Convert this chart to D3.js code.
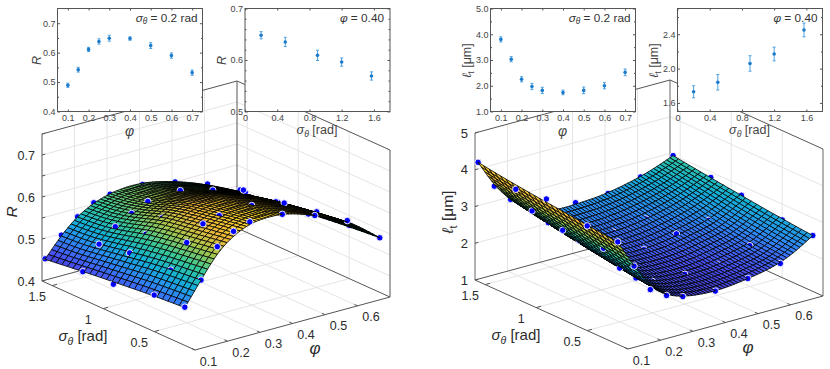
<!DOCTYPE html>
<html>
<head>
<meta charset="utf-8">
<script src="https://cdn.jsdelivr.net/npm/d3@7"></script>
<style>
  html, body { margin: 0; padding: 0; background: #fff; }
  text { font-family: "Liberation Sans", Arial, sans-serif; }
</style>
</head>
<body>
<div id="container"></div>
<script>
// Inset Data
var insetPhi = [0.1, 0.15, 0.2, 0.25, 0.3, 0.4, 0.5, 0.6, 0.7];
var insetSigma = [0.2, 0.5, 0.9, 1.2, 1.57];
var rVsPhi = [0.489, 0.542, 0.611, 0.638, 0.649, 0.648, 0.624, 0.590, 0.532];
var rVsPhiErr = [0.007, 0.008, 0.007, 0.009, 0.010, 0.006, 0.010, 0.009, 0.009];
var rVsSigma = [0.648, 0.635, 0.609, 0.596, 0.569];
var rVsSigmaErr = [0.007, 0.009, 0.010, 0.008, 0.008];
var ltVsPhi = [3.80, 3.03, 2.25, 1.97, 1.82, 1.74, 1.82, 2.00, 2.52];
var ltVsPhiErr = [0.10, 0.10, 0.10, 0.12, 0.12, 0.09, 0.13, 0.12, 0.13];
var ltVsSigma = [1.73, 1.84, 2.06, 2.17, 2.45];
var ltVsSigmaErr = [0.07, 0.09, 0.09, 0.08, 0.08];

// Blue Points On The 3D Plots, One Row Per phi, One Column Per sigma
var rPoints = [
  [0.491, 0.487, 0.469, 0.466, 0.456],
  [0.545, 0.536, 0.533, 0.521, 0.502],
  [0.614, 0.591, 0.567, 0.552, 0.535],
  [0.640, 0.625, 0.595, 0.573, 0.558],
  [0.652, 0.634, 0.607, 0.591, 0.568],
  [0.649, 0.637, 0.610, 0.596, 0.570],
  [0.625, 0.622, 0.609, 0.576, 0.555],
  [0.592, 0.580, 0.560, 0.549, 0.529],
  [0.530, 0.527, 0.510, 0.505, 0.494]
];
var ltPoints = [
  [3.79, 3.85, 4.08, 3.97, 4.24],
  [3.01, 3.12, 3.11, 3.26, 3.47],
  [2.25, 2.46, 2.72, 2.82, 2.99],
  [1.97, 2.07, 2.35, 2.50, 2.75],
  [1.82, 1.86, 2.05, 2.25, 2.46],
  [1.73, 1.81, 1.98, 2.08, 2.42],
  [1.83, 1.83, 2.17, 2.20, 2.43],
  [2.00, 2.11, 2.30, 2.36, 2.64],
  [2.52, 2.57, 2.74, 2.85, 2.98]
];

// Fitted Surface Read At Regular Nodes, One Row Per sigma, One Column Per phi
var surfPhi = [0.1, 0.7];
var surfSigma = [0.2, 1.57];
var rSurface = [
  [0.490, 0.545, 0.600, 0.630, 0.648, 0.652, 0.650, 0.640, 0.625, 0.610, 0.590, 0.562, 0.530],
  [0.486, 0.540, 0.590, 0.621, 0.639, 0.645, 0.643, 0.633, 0.618, 0.602, 0.582, 0.555, 0.525],
  [0.481, 0.534, 0.581, 0.611, 0.627, 0.634, 0.633, 0.624, 0.609, 0.593, 0.573, 0.547, 0.519],
  [0.475, 0.522, 0.572, 0.602, 0.617, 0.623, 0.622, 0.613, 0.599, 0.583, 0.563, 0.538, 0.512],
  [0.469, 0.514, 0.553, 0.580, 0.594, 0.600, 0.600, 0.592, 0.580, 0.568, 0.549, 0.526, 0.504],
  [0.462, 0.503, 0.541, 0.564, 0.578, 0.584, 0.584, 0.577, 0.566, 0.553, 0.537, 0.517, 0.497],
  [0.455, 0.502, 0.537, 0.558, 0.570, 0.575, 0.574, 0.567, 0.556, 0.543, 0.527, 0.509, 0.490]
];
var ltSurface = [
  [3.78, 3.01, 2.32, 1.97, 1.82, 1.75, 1.73, 1.76, 1.83, 1.90, 2.02, 2.23, 2.52],
  [3.85, 3.08, 2.42, 2.04, 1.88, 1.81, 1.79, 1.81, 1.87, 1.96, 2.05, 2.30, 2.58],
  [3.92, 3.15, 2.52, 2.13, 1.95, 1.88, 1.87, 1.89, 1.96, 2.06, 2.15, 2.38, 2.65],
  [3.99, 3.22, 2.62, 2.24, 2.04, 1.96, 1.96, 1.99, 2.07, 2.17, 2.26, 2.48, 2.73],
  [4.06, 3.29, 2.72, 2.35, 2.15, 2.07, 2.07, 2.11, 2.19, 2.29, 2.42, 2.59, 2.81],
  [4.14, 3.38, 2.84, 2.47, 2.27, 2.20, 2.21, 2.25, 2.32, 2.42, 2.54, 2.70, 2.89],
  [4.24, 3.48, 2.97, 2.60, 2.42, 2.36, 2.38, 2.40, 2.45, 2.54, 2.65, 2.80, 2.98]
];

// Tick Values
var phiTicks3d = [0.1, 0.2, 0.3, 0.4, 0.5, 0.6];
var sigmaTicks3d = [0.5, 1, 1.5];
var rTicks3d = [0.4, 0.5, 0.6, 0.7];
var rGrid3d = [0.4, 0.45, 0.5, 0.55, 0.6, 0.65, 0.7, 0.75];
var ltTicks3d = [1, 2, 3, 4, 5];
var parula = ["#3e26a8", "#4852f4", "#2e87f7", "#12b1d6", "#37c897", "#a0c74f", "#f0b93a", "#f9d52a", "#f9fb15"];

var MESH_PHI = 60; // Mesh Cells Along phi
var MESH_SIGMA = 25; // Mesh Cells Along sigma

var svg = d3.select("#container").append("svg")
    .attr("width", 830)
    .attr("height", 369)
    .style("display", "block");

// Adds A Text With An Italic sigma And Its Theta Subscript
function sigmaLabel(sel, size, suffix) {
  sel.append("tspan").attr("font-style", "italic").text("σ");
  sel.append("tspan").attr("font-style", "italic").attr("font-size", size * 0.7).attr("dy", size * 0.25).text("θ");
  sel.append("tspan").attr("dy", -size * 0.25).text(suffix);
}

function ltLabel(sel, size) {
  sel.append("tspan").attr("font-style", "italic").text("ℓ");
  sel.append("tspan").attr("font-size", size * 0.7).attr("dy", size * 0.25).text("t");
  sel.append("tspan").attr("dy", -size * 0.25).text(" [μm]");
}

function drawSurfacePlot(opt) {
  var g = svg.append("g");
  var phiX = d3.scaleLinear().domain([0.1, 0.7]).range([0, 195]);
  var phiY = d3.scaleLinear().domain([0.1, 0.7]).range([0, -53]);
  var sigmaX = d3.scaleLinear().domain([0.1, 1.6]).range([0, -153]);
  var sigmaY = d3.scaleLinear().domain([0.1, 1.6]).range([0, -69]);
  var zY = d3.scaleLinear().domain(opt.zDomain).range([0, -147]);
  var project = function(phi, sigma, z) {
    return [opt.x0 + phiX(phi) + sigmaX(sigma), opt.y0 + phiY(phi) + sigmaY(sigma) + zY(z)];
  };
  var seg = function(a, b, color, width) {
    g.append("line")
      .attr("x1", a[0]).attr("y1", a[1]).attr("x2", b[0]).attr("y2", b[1])
      .attr("stroke", color).attr("stroke-width", width);
  };
  var zLo = opt.zDomain[0], zHi = opt.zDomain[1];

  // Grid On The Floor And On Both Back Walls
  phiTicks3d.slice(1).forEach(function(p) {
    seg(project(p, 0.1, zLo), project(p, 1.6, zLo), "#e4e4e4", 1);
    seg(project(p, 1.6, zLo), project(p, 1.6, zHi), "#e4e4e4", 1);
  });
  sigmaTicks3d.forEach(function(s) {
    seg(project(0.1, s, zLo), project(0.7, s, zLo), "#e4e4e4", 1);
    seg(project(0.7, s, zLo), project(0.7, s, zHi), "#e4e4e4", 1);
  });
  opt.zGrid.slice(1, -1).forEach(function(z) {
    seg(project(0.1, 1.6, z), project(0.7, 1.6, z), "#e4e4e4", 1);
    seg(project(0.7, 1.6, z), project(0.7, 0.1, z), "#e4e4e4", 1);
  });

  // Box Edges
  seg(project(0.1, 1.6, zLo), project(0.1, 1.6, zHi), opt.edge, opt.edgeWidth);
  seg(project(0.7, 1.6, zLo), project(0.7, 1.6, zHi), opt.edge, opt.edgeWidth);
  seg(project(0.7, 0.1, zLo), project(0.7, 0.1, zHi), opt.edge, opt.edgeWidth);
  seg(project(0.1, 1.6, zHi), project(0.7, 1.6, zHi), "#555", 1);
  seg(project(0.7, 1.6, zHi), project(0.7, 0.1, zHi), "#555", 1);
  seg(project(0.1, 1.6, zLo), project(0.7, 1.6, zLo), "#555", 1);
  seg(project(0.7, 1.6, zLo), project(0.7, 0.1, zLo), "#555", 1);
  seg(project(0.1, 0.1, zLo), project(0.1, 1.6, zLo), "#555", 1);
  seg(project(0.1, 0.1, zLo), project(0.7, 0.1, zLo), "#555", 1);

  // Refine The Read Nodes To The Mesh Resolution
  var rowFns = opt.surface.map(function(row) { return d3.interpolateBasis(row); });
  var grid = d3.range(MESH_PHI + 1).map(function(i) {
    var colFn = d3.interpolateBasis(rowFns.map(function(f) { return f(i / MESH_PHI); }));
    return d3.range(MESH_SIGMA + 1).map(function(j) { return colFn(j / MESH_SIGMA); });
  });
  var phiAt = d3.scaleLinear().domain([0, MESH_PHI]).range(surfPhi);
  var sigmaAt = d3.scaleLinear().domain([0, MESH_SIGMA]).range(surfSigma);
  var color = d3.scaleLinear()
      .domain(d3.quantize(d3.interpolate(opt.colorDomain[0], opt.colorDomain[1]), parula.length))
      .range(parula);

  // Each Blue Point Goes At The Mesh Node It Sits On
  var pointsAt = {};
  insetPhi.forEach(function(p, a) {
    insetSigma.forEach(function(s, b) {
      var key = Math.round(phiAt.invert(p)) + "_" + Math.round(sigmaAt.invert(s));
      pointsAt[key] = {type: "dot", pos: project(p, s, opt.points[a][b])};
    });
  });

  // Far To Near So Nearer Cells Cover What Is Behind Them
  var items = [];
  d3.range(MESH_SIGMA + 1).reverse().forEach(function(j) {
    if (pointsAt[MESH_PHI + "_" + j]) items.push(pointsAt[MESH_PHI + "_" + j]);
  });
  d3.range(MESH_PHI).reverse().forEach(function(i) {
    d3.range(MESH_SIGMA + 1).reverse().forEach(function(j) {
      if (j < MESH_SIGMA) {
        var corners = [[i, j], [i + 1, j], [i + 1, j + 1], [i, j + 1]];
        var avg = d3.mean(corners, function(c) { return grid[c[0]][c[1]]; });
        items.push({
          type: "cell",
          fill: color(avg),
          pts: corners.map(function(c) { return project(phiAt(c[0]), sigmaAt(c[1]), grid[c[0]][c[1]]); })
        });
      }
      if (pointsAt[i + "_" + j]) items.push(pointsAt[i + "_" + j]);
    });
  });
  var line = d3.line();
  var dotShape = d3.symbol().type(d3.symbolCircle).size(Math.PI * 10.5);
  g.append("g").selectAll("path")
    .data(items)
    .join("path")
      .attr("d", function(d) { return d.type === "dot" ? dotShape() : line(d.pts) + "Z"; })
      .attr("transform", function(d) { return d.type === "dot" ? "translate(" + d.pos + ")" : null; })
      .attr("fill", function(d) { return d.type === "dot" ? "#0000ff" : d.fill; })
      .attr("stroke", function(d) { return d.type === "dot" ? "#fff" : "#000"; })
      .attr("stroke-width", function(d) { return d.type === "dot" ? 0.9 : 0.8; });

  // Tick Marks And Labels
  phiTicks3d.forEach(function(p) {
    var a = project(p, 0.1, zLo);
    seg(a, project(p, 0.13, zLo), "#555", 1);
    g.append("text").attr("x", a[0] + 13.5).attr("y", a[1] + 15.5).attr("text-anchor", "middle")
      .attr("font-size", 12.5).attr("fill", "#2b2b2b").text(p);
  });
  sigmaTicks3d.forEach(function(s) {
    var a = project(0.1, s, zLo);
    seg(a, project(0.115, s, zLo), "#555", 1);
    g.append("text").attr("x", a[0] - 15).attr("y", a[1] + 15).attr("text-anchor", "middle")
      .attr("font-size", 12.5).attr("fill", "#2b2b2b").text(s);
  });
  opt.zGrid.forEach(function(z) {
    var a = project(0.1, 1.6, z);
    seg(a, project(0.11, 1.6, z), "#555", 1);
  });
  opt.zTicks.forEach(function(z) {
    var a = project(0.1, 1.6, z);
    g.append("text").attr("x", a[0] - 7).attr("y", a[1] + 4.5).attr("text-anchor", "end")
      .attr("font-size", opt.zFont).attr("fill", "#2b2b2b").text(z);
  });

  g.append("text").attr("x", opt.x0 + 120).attr("y", opt.y0 + 4).attr("text-anchor", "middle")
    .attr("font-size", 17).attr("font-style", "italic").attr("fill", "#2b2b2b").text("φ");
  var sl = g.append("text").attr("x", opt.x0 - 112).attr("y", opt.y0 - 9).attr("text-anchor", "middle")
    .attr("font-size", 15).attr("fill", "#2b2b2b");
  sigmaLabel(sl, 15, " [rad]");
  var zl = g.append("text")
    .attr("transform", "translate(" + opt.zLabelX + ",212) rotate(-90)")
    .attr("text-anchor", "middle").attr("font-size", 15.5).attr("fill", "#2b2b2b");
  opt.zLabel(zl, 15.5);
}

function drawInset(opt) {
  var g = svg.append("g").attr("transform", "translate(" + opt.x + ",8.5)");
  var w = 145, h = 103;
  var x = d3.scaleLinear().domain(opt.xDomain).range([0, w]);
  var y = d3.scaleLinear().domain(opt.yDomain).range([h, 0]);

  g.append("rect").attr("width", w).attr("height", h).attr("fill", "#fff");

  var axisStyle = function(sel) {
    sel.select(".domain").remove();
    sel.selectAll("line").attr("stroke", "#555");
    sel.selectAll("text").attr("font-size", 9).attr("fill", "#444");
  };
  // Ticks Point Inward On All Four Sides Of The Box
  [[d3.axisBottom(x), h, opt.xFmt], [d3.axisTop(x), 0, ""]].forEach(function(a) {
    g.append("g").attr("transform", "translate(0," + a[1] + ")")
      .call(a[0].tickValues(opt.xTicks).tickSize(-2).tickPadding(3).tickFormat(a[2] === "" ? "" : a[2]))
      .call(axisStyle);
  });
  [[d3.axisLeft(y), 0, opt.yFmt], [d3.axisRight(y), w, ""]].forEach(function(a) {
    g.append("g").attr("transform", "translate(" + a[1] + ",0)")
      .call(a[0].tickValues(opt.yMinor).tickSize(-1.5).tickFormat(""))
      .call(axisStyle);
    g.append("g").attr("transform", "translate(" + a[1] + ",0)")
      .call(a[0].tickValues(opt.yTicks).tickSize(-2.5).tickPadding(2).tickFormat(a[2] === "" ? "" : a[2]))
      .call(axisStyle);
  });
  g.append("rect").attr("width", w).attr("height", h)
    .attr("fill", "none").attr("stroke", "#555").attr("stroke-width", 1);

  // Error Bars With Small Caps, Then The Point
  var pts = g.append("g").selectAll("g")
    .data(opt.xs.map(function(v, i) { return {x: v, y: opt.ys[i], e: opt.errs[i]}; }))
    .join("g");
  pts.append("path")
    .attr("d", function(d) {
      var px = x(d.x), t = y(d.y + d.e), b = y(d.y - d.e);
      return "M" + px + "," + t + "V" + b + "M" + (px - 1.5) + "," + t + "H" + (px + 1.5) + "M" + (px - 1.5) + "," + b + "H" + (px + 1.5);
    })
    .attr("stroke", "#3d97dc").attr("stroke-width", 0.9).attr("fill", "none");
  pts.append("circle")
    .attr("cx", function(d) { return x(d.x); })
    .attr("cy", function(d) { return y(d.y); })
    .attr("r", 1.8)
    .attr("fill", "#1c7ccb");

  // Axis Titles And The Note Inside The Box
  var xt = g.append("text").attr("x", opt.xTitleX).attr("y", opt.xTitleY).attr("text-anchor", "middle")
    .attr("font-size", 12.5).attr("fill", "#444");
  opt.xTitle(xt, 12.5);
  var yt = g.append("text")
    .attr("transform", "translate(" + opt.yTitleX + ",52) rotate(-90)")
    .attr("text-anchor", "middle").attr("font-size", 12.5).attr("fill", "#444");
  opt.yTitle(yt, 12.5);
  var note = g.append("text").attr("x", opt.noteX).attr("y", 13).attr("text-anchor", "end")
    .attr("font-size", 11.8).attr("fill", "#333");
  opt.note(note, 11.8);
}

function phiTitle(sel) { sel.attr("font-style", "italic").attr("font-size", 14).text("φ"); }
function rTitle(sel) { sel.attr("font-style", "italic").text("R"); }
function sigmaTitle(sel, size) { sigmaLabel(sel, size, " [rad]"); }
function sigmaNote(sel, size) { sigmaLabel(sel, size, " = 0.2 rad"); }
function phiNote(sel) {
  sel.append("tspan").attr("font-style", "italic").text("φ");
  sel.append("tspan").text(" = 0.40");
}
function plainZero(v) { return v === 0 ? "0" : d3.format(".1f")(v); }

drawSurfacePlot({
  x0: 195, y0: 350, zDomain: [0.4, 0.75], zTicks: rTicks3d, zGrid: rGrid3d, zFont: 12.5, colorDomain: [0.44, 0.68],
  surface: rSurface, points: rPoints, edge: "#555", edgeWidth: 1, zLabelX: 17, zLabel: rTitle
});
drawSurfacePlot({
  x0: 628, y0: 349, zDomain: [1, 5], zTicks: ltTicks3d, zGrid: ltTicks3d, zFont: 13, colorDomain: [1.5, 4.6],
  surface: ltSurface, points: ltPoints, edge: "#999", edgeWidth: 1.5, zLabelX: 453, zLabel: ltLabel
});

drawInset({
  x: 57.5, xDomain: [0.05, 0.75], yDomain: [0.4, 0.75],
  xTicks: [0.1, 0.2, 0.3, 0.4, 0.5, 0.6, 0.7], yTicks: [0.4, 0.5, 0.6, 0.7],
  yMinor: [0.45, 0.55, 0.65], xFmt: d3.format(".1f"), yFmt: d3.format(".1f"),
  xs: insetPhi, ys: rVsPhi, errs: rVsPhiErr,
  xTitle: phiTitle, xTitleX: 72, xTitleY: 127, yTitle: rTitle, yTitleX: -17, note: sigmaNote, noteX: 140
});
drawInset({
  x: 245, xDomain: [0, 1.8], yDomain: [0.5, 0.7],
  xTicks: [0, 0.4, 0.8, 1.2, 1.6], yTicks: [0.5, 0.6, 0.7],
  yMinor: [0.52, 0.54, 0.56, 0.58, 0.62, 0.64, 0.66, 0.68], xFmt: plainZero, yFmt: d3.format(".1f"),
  xs: insetSigma, ys: rVsSigma, errs: rVsSigmaErr,
  xTitle: sigmaTitle, xTitleX: 72, xTitleY: 125, yTitle: rTitle, yTitleX: -19, note: phiNote, noteX: 139
});
drawInset({
  x: 490.5, xDomain: [0.05, 0.75], yDomain: [1, 5],
  xTicks: [0.1, 0.2, 0.3, 0.4, 0.5, 0.6, 0.7], yTicks: [1, 2, 3, 4, 5],
  yMinor: [1.5, 2.5, 3.5, 4.5], xFmt: d3.format(".1f"), yFmt: d3.format(".1f"),
  xs: insetPhi, ys: ltVsPhi, errs: ltVsPhiErr,
  xTitle: phiTitle, xTitleX: 72, xTitleY: 127, yTitle: ltLabel, yTitleX: -20, note: sigmaNote, noteX: 140
});
drawInset({
  x: 677.5, xDomain: [0, 1.8], yDomain: [1.5, 2.7],
  xTicks: [0, 0.4, 0.8, 1.2, 1.6], yTicks: [1.6, 2.0, 2.4],
  yMinor: [1.8, 2.2, 2.6], xFmt: plainZero, yFmt: d3.format(".1f"),
  xs: insetSigma, ys: ltVsSigma, errs: ltVsSigmaErr,
  xTitle: sigmaTitle, xTitleX: 72, xTitleY: 125, yTitle: ltLabel, yTitleX: -20, note: phiNote, noteX: 140
});
</script>
</body>
</html>
